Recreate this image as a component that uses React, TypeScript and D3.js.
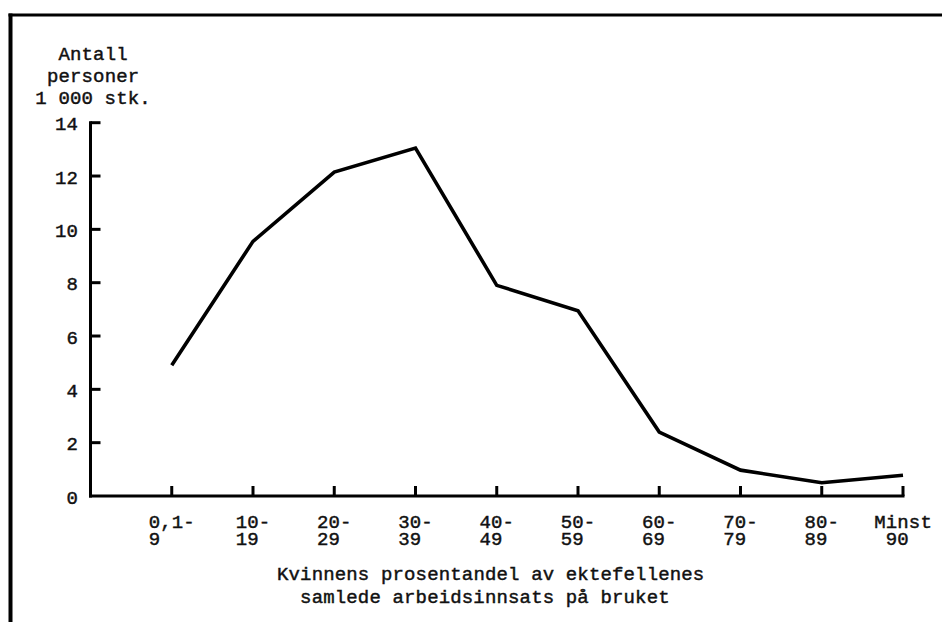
import React from "react";
import * as d3 from "d3";

const categoryTop = ["0,1-", "10-", "20-", "30-", "40-", "50-", "60-", "70-", "80-", "Minst"];
const categoryBottom = ["9", "19", "29", "39", "49", "59", "69", "79", "89", "90"];
const persons = [4.9, 9.55, 12.15, 13.05, 7.9, 6.95, 2.4, 0.97, 0.5, 0.78];
const yTicks = [0, 2, 4, 6, 8, 10, 12, 14];
const yTitle = ["Antall", "personer", "1 000 stk."];
const xTitle = ["Kvinnens prosentandel av ektefellenes", "samlede arbeidsinnsats på bruket"];

const W = 942;
const H = 622;
const FS = 19;
const LS = 0.15;
const ADV = FS * 0.6 + LS;
const FONT = "'Liberation Mono', 'Courier New', monospace";

export default function App() {
  const x = d3.scaleLinear().domain([0, 10]).range([90.5, 903]);
  const y = d3.scaleLinear().domain([0, 14]).range([496, 122.7]);
  const line = d3
    .line<number>()
    .x((_, i) => x(i + 1))
    .y((d) => y(d));

  const textW = (s: string) => s.length * ADV - LS;
  const textProps = {
    fontFamily: FONT,
    fontSize: FS,
    letterSpacing: LS,
    fill: "#111",
    stroke: "#111",
    strokeWidth: 0.45,
  };

  return (
    <svg
      width={W}
      height={H}
      style={{ position: "absolute", left: 0, top: 0, background: "#fff" }}
    >
      {/* frame */}
      <line x1={10.5} y1={13.5} x2={10.5} y2={H} stroke="#000" strokeWidth={4} />
      <line x1={8.5} y1={15} x2={W} y2={15} stroke="#000" strokeWidth={3} />

      {/* y axis */}
      <line x1={x(0)} y1={y(14) - 1.5} x2={x(0)} y2={y(0) + 1.5} stroke="#000" strokeWidth={3} />
      {yTicks.map((t) => (
        <g key={t}>
          {t > 0 && (
            <line x1={x(0)} y1={y(t)} x2={x(0) + 10} y2={y(t)} stroke="#000" strokeWidth={3} />
          )}
          <text x={78 + LS} y={y(t) + 7.5} textAnchor="end" {...textProps}>
            {t}
          </text>
        </g>
      ))}

      {/* x axis */}
      <line x1={x(0) - 1.5} y1={y(0)} x2={x(10) + 1.5} y2={y(0)} stroke="#000" strokeWidth={3} />
      {categoryTop.map((c, i) => {
        const cx = x(i + 1);
        const s1 = cx - textW(c) / 2;
        const s2 = i === categoryTop.length - 1 ? s1 + ADV : s1;
        return (
          <g key={c}>
            <line x1={cx} y1={y(0)} x2={cx} y2={y(0) - 10} stroke="#000" strokeWidth={3} />
            <text x={s1} y={528} {...textProps}>
              {c}
            </text>
            <text x={s2} y={544.5} {...textProps}>
              {categoryBottom[i]}
            </text>
          </g>
        );
      })}

      {/* data line */}
      <path
        d={line(persons) || ""}
        fill="none"
        stroke="#000"
        strokeWidth={3.6}
        strokeLinejoin="miter"
        strokeLinecap="butt"
      />

      {/* y title */}
      {yTitle.map((t, i) => (
        <text key={t} x={93 - textW(t) / 2} y={59.5 + i * 22.3} {...textProps}>
          {t}
        </text>
      ))}

      {/* x title */}
      <text x={277} y={580} {...textProps}>
        {xTitle[0]}
      </text>
      <text x={277 + 2 * ADV} y={602.5} {...textProps}>
        {xTitle[1]}
      </text>
    </svg>
  );
}
